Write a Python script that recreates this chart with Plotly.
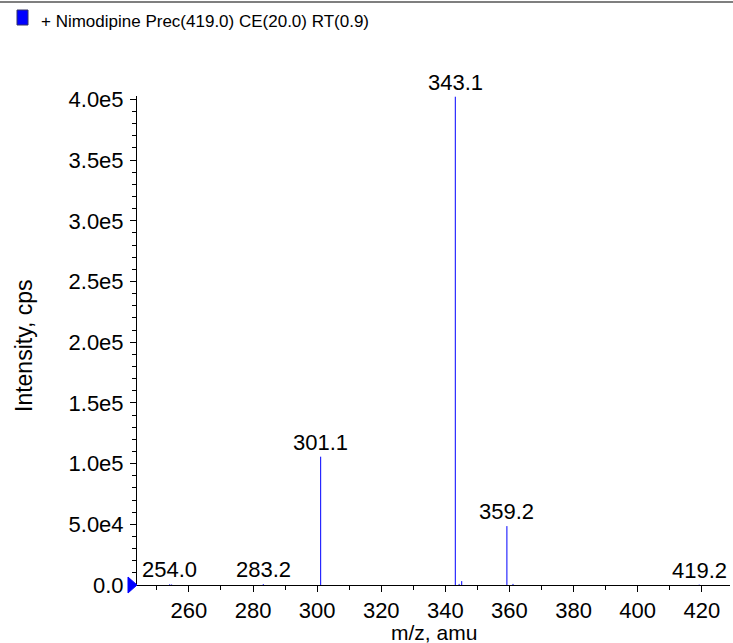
import plotly.graph_objects as go

# Peak data (m/z, intensity in cps)
mz = [254.0, 254.6, 283.2, 301.1, 343.1, 344.3, 345.1, 359.2, 361.1, 419.2]
intensity = [600, 400, 700, 105700, 402200, 900, 3200, 48500, 900, 300]

# Labelled peaks
label_mz = [254.0, 283.2, 301.1, 343.1, 359.2, 419.2]
label_int = [600, 700, 105700, 402200, 48500, 300]
label_text = ["254.0", "283.2", "301.1", "343.1", "359.2", "419.2"]

y_ticks = [0, 50000, 100000, 150000, 200000, 250000, 300000, 350000, 400000]
y_ticktext = ["0.0", "5.0e4", "1.0e5", "1.5e5", "2.0e5", "2.5e5", "3.0e5", "3.5e5", "4.0e5"]
x_ticks = [260, 280, 300, 320, 340, 360, 380, 400, 420]

title_text = "+ Nimodipine Prec(419.0) CE(20.0) RT(0.9)"

X_RANGE = [243.8, 428.8]
Y_RANGE = [0, 402800]

W, H = 733, 643
ML, MR, MT, MB = 137, 3, 96, 58
PW, PH = W - ML - MR, H - MT - MB

def px(x):
    return (x - ML) / PW

def py(y):
    return (H - MB - y) / PH

FONT = "Liberation Sans, Arial, Helvetica, sans-serif"

xs, ys = [], []
for m, v in zip(mz, intensity):
    xs += [m, m, None]
    ys += [0, v, None]

fig = go.Figure()
fig.add_trace(go.Scatter(x=xs, y=ys, mode="lines",
                         line=dict(color="#0000ff", width=1),
                         hoverinfo="skip", showlegend=False))

for m, v, t in zip(label_mz, label_int, label_text):
    fig.add_annotation(x=m, y=v, text=t, showarrow=False, yanchor="bottom",
                       yshift=0,
                       font=dict(family=FONT, size=22, color="black"))

# blue zero marker on the y axis
fig.add_shape(type="path", xref="paper", yref="paper",
              path=f"M {px(128)},{py(577)} L {px(137)},{py(585)} L {px(128)},{py(593)} Z",
              fillcolor="#0000ff", line=dict(color="#0000ff", width=1))

# header line and legend box
fig.add_shape(type="line", xref="paper", yref="paper", x0=px(0), x1=px(733),
              y0=py(2), y1=py(2), line=dict(color="#555555", width=1.5))
fig.add_shape(type="rect", xref="paper", yref="paper", x0=px(17), x1=px(28),
              y0=py(25), y1=py(10), fillcolor="#0000ff",
              line=dict(color="#333366", width=1))
fig.add_annotation(xref="paper", yref="paper", x=px(39), y=py(21), text=title_text,
                   showarrow=False, xanchor="left", yanchor="middle",
                   font=dict(family=FONT, size=17, color="black"))

fig.add_annotation(xref="paper", yref="paper", x=px(24), y=py(346),
                   text="Intensity, cps", textangle=-90, showarrow=False,
                   xanchor="center", yanchor="middle",
                   font=dict(family=FONT, size=23, color="black"))
fig.add_annotation(xref="paper", yref="paper", x=px(434), y=py(632),
                   text="m/z, amu", showarrow=False, xanchor="center", yanchor="middle",
                   font=dict(family=FONT, size=21, color="black"))

fig.update_layout(
    width=W, height=H,
    margin=dict(l=ML, r=MR, t=MT, b=MB),
    paper_bgcolor="white", plot_bgcolor="white",
    showlegend=False,
    xaxis=dict(range=X_RANGE, tickvals=x_ticks, showgrid=False, zeroline=False,
               showline=True, linecolor="black", linewidth=1,
               ticks="outside", ticklen=6, tickcolor="black",
               minor=dict(dtick=10, ticks="outside", ticklen=4, tickcolor="black"),
               tickfont=dict(family=FONT, size=22, color="black")),
    yaxis=dict(range=Y_RANGE, tickvals=y_ticks, ticktext=y_ticktext, showgrid=False,
               zeroline=False, showline=True, linecolor="black", linewidth=1,
               ticks="outside", ticklen=6, tickcolor="black", ticklabelstandoff=2,
               minor=dict(dtick=10000, ticks="outside", ticklen=4, tickcolor="black"),
               tickfont=dict(family=FONT, size=22, color="black")),
)

fig.write_html("out.html", config={"displayModeBar": False},
               post_script="document.body.style.margin='0';")
